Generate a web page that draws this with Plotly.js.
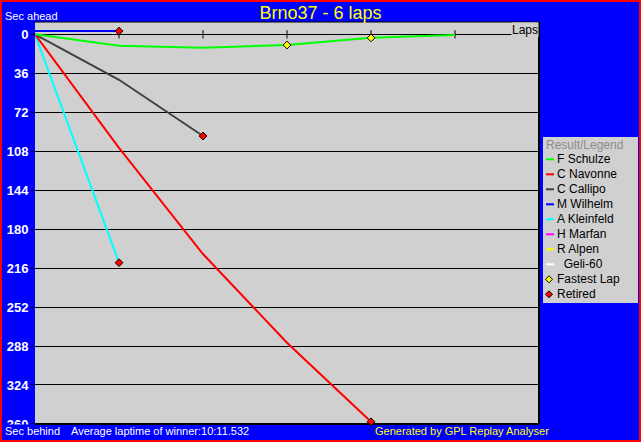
<!DOCTYPE html>
<html><head><meta charset="utf-8">
<script src="https://cdn.plot.ly/plotly-3.0.1.min.js"></script>
<style>
html,body{margin:0;padding:0;background:#0000ff;overflow:hidden}
#wrap{width:637px;height:438px;border:2px solid #ff0000;}
</style></head>
<body><div id="wrap"><div id="chart" style="width:637px;height:438px"></div></div>
<script>
// ---- data ----
const lapTicks = [1, 2, 3, 4, 5];
const yTickVals = [0, 36, 72, 108, 144, 180, 216, 252, 288, 324, 360];

const schulzeLaps = [0, 1, 2, 3, 4, 5];
const schulzeSec  = [0, 10.5, 12.5, 9.9, 3.3, 0.6];
const navonneLaps = [0, 1, 2, 3, 4];
const navonneSec  = [0, 105, 203, 285, 358];
const callipoLaps = [0, 1, 2];
const callipoSec  = [0, 42, 94];
const wilhelmLaps = [0, 1];
const wilhelmSec  = [-3, -3];
const kleinfeldLaps = [0, 1];
const kleinfeldSec  = [0, 211];

const fastestLaps = [3, 4];
const fastestSec  = [9.9, 3.3];
const retiredLaps = [1, 1, 2, 4];
const retiredSec  = [-3, 211, 94, 358];

const legendNames  = ['F Schulze', 'C Navonne', 'C Callipo', 'M Wilhelm', 'A Kleinfeld', 'H Marfan', 'R Alpen', '\u00a0\u00a0Geli-60'];
const legendColors = ['#00ff00', '#ff0000', '#404040', '#0000ff', '#00ffff', '#ff00ff', '#ffff00', '#ffffff'];
const markerNames  = ['Fastest Lap', 'Retired'];
const markerColors = ['#ffff00', '#ff0000'];

const titleText = 'Brno37 - 6 laps';
const topLeftText = 'Sec ahead';
const bottomLeftText = 'Sec behind';
const avgText = 'Average laptime of winner:10:11.532';
const genText = 'Generated by GPL Replay Analyser';
const lapsText = 'Laps';
const legendTitle = 'Result/Legend';

// ---- layout helpers (page pixels -> paper) ----
const OFF = 2, L = 33, T = 20, W = 504, H = 402;
const px = x => (x - OFF - L) / W;
const py = y => 1 - (y - OFF - T) / H;
const FONT = 'Liberation Sans, Arial, sans-serif';

const lineTrace = (x, y, c) => ({x, y, type: 'scatter', mode: 'lines', line: {color: c, width: 2}, hoverinfo: 'skip', showlegend: false});

const data = [
  {x: lapTicks, y: lapTicks.map(() => 0), type: 'scatter', mode: 'markers',
   marker: {symbol: 'line-ns', size: 6, line: {color: '#000000', width: 1}}, showlegend: false, hoverinfo: 'skip'},
  lineTrace(wilhelmLaps, wilhelmSec, legendColors[3]),
  lineTrace(kleinfeldLaps, kleinfeldSec, legendColors[4]),
  lineTrace(callipoLaps, callipoSec, legendColors[2]),
  lineTrace(navonneLaps, navonneSec, legendColors[1]),
  lineTrace(schulzeLaps, schulzeSec, legendColors[0]),
  {x: fastestLaps, y: fastestSec, type: 'scatter', mode: 'markers', cliponaxis: false,
   marker: {symbol: 'diamond', size: 6, color: markerColors[0], line: {color: '#000', width: 1}}, showlegend: false, hoverinfo: 'skip'},
  {x: retiredLaps, y: retiredSec, type: 'scatter', mode: 'markers', cliponaxis: false,
   marker: {symbol: 'diamond', size: 6, color: markerColors[1], line: {color: '#000', width: 1}}, showlegend: false, hoverinfo: 'skip'}
];

const shapes = [
  // plot frame (top, right, bottom)
  {type: 'line', xref: 'paper', yref: 'paper', x0: 0, x1: 1, y0: 1, y1: 1, line: {color: '#000', width: 1}, layer: 'below'},
  {type: 'line', xref: 'paper', yref: 'paper', x0: 1, x1: 1, y0: 0, y1: 1, line: {color: '#000', width: 2}, layer: 'below'},
  {type: 'line', xref: 'paper', yref: 'paper', x0: 0, x1: 1, y0: 0, y1: 0, line: {color: '#000', width: 2}, layer: 'below'},
  // clip of bottom tick label
  {type: 'rect', xref: 'paper', yref: 'paper', x0: px(2), x1: px(34), y0: py(440), y1: py(424.5), fillcolor: '#0000ff', line: {width: 0}, layer: 'above'},
  // legend box
  {type: 'rect', xref: 'paper', yref: 'paper', x0: px(543), x1: px(638), y0: py(303), y1: py(137), fillcolor: '#d0d0d0', line: {width: 0}, layer: 'above'}
];

const annotations = [
  {text: topLeftText, x: px(3), y: py(16), xanchor: 'left', yanchor: 'middle', font: {color: '#ffffff', size: 11, family: FONT}},
  {text: bottomLeftText, x: px(3), y: py(431), xanchor: 'left', yanchor: 'middle', font: {color: '#ffffff', size: 11, family: FONT}},
  {text: avgText, x: px(69), y: py(431), xanchor: 'left', yanchor: 'middle', font: {color: '#ffffff', size: 11, family: FONT}},
  {text: genText, x: px(373), y: py(431), xanchor: 'left', yanchor: 'middle', font: {color: '#ffff00', size: 11, family: FONT}},
  {text: lapsText, x: px(539), y: py(22), xanchor: 'right', yanchor: 'top', bgcolor: '#d0d0d0', borderpad: 0, font: {color: '#000000', size: 12, family: FONT}},
  {text: legendTitle, x: px(544), y: py(145), xanchor: 'left', yanchor: 'middle', font: {color: '#8c8c8c', size: 12, family: FONT}}
];

const itemY = i => 159.3 + 15 * i;
legendNames.forEach((n, i) => {
  const y = itemY(i);
  shapes.push({type: 'line', xref: 'paper', yref: 'paper', x0: px(546), x1: px(554), y0: py(y), y1: py(y), line: {color: legendColors[i], width: 2}, layer: 'above'});
  annotations.push({text: n, x: px(555), y: py(y), xanchor: 'left', yanchor: 'middle', font: {color: '#000000', size: 12, family: FONT}});
});
markerNames.forEach((n, j) => {
  const y = itemY(legendNames.length + j);
  shapes.push({type: 'path', xref: 'paper', yref: 'paper', xsizemode: 'pixel', ysizemode: 'pixel', xanchor: px(549), yanchor: py(y),
    path: 'M0,3.5L3.5,0L0,-3.5L-3.5,0Z', fillcolor: markerColors[j], line: {color: '#000', width: 1}, layer: 'above'});
  annotations.push({text: n, x: px(555), y: py(y), xanchor: 'left', yanchor: 'middle', font: {color: '#000000', size: 12, family: FONT}});
});
annotations.forEach(a => { a.xref = 'paper'; a.yref = 'paper'; a.showarrow = false; });

const layout = {
  width: 637, height: 438,
  margin: {l: L, r: 637 - L - W, t: T, b: 438 - T - H, pad: 0},
  paper_bgcolor: '#0000ff', plot_bgcolor: '#d0d0d0',
  font: {family: FONT},
  title: {text: titleText, font: {color: '#ffff00', size: 18, family: FONT}, x: 0.5, xanchor: 'center', xref: 'container', yref: 'container', y: 1 - 11 / 438, yanchor: 'middle'},
  showlegend: false,
  xaxis: {range: [0, 6], showgrid: false, zeroline: false, showticklabels: false, ticks: '', showline: false, fixedrange: true},
  yaxis: {range: [360.05, -11.35], tickvals: yTickVals, ticktext: yTickVals.map(String), ticks: 'outside', ticklen: 3, tickcolor: '#000000',
    tickfont: {color: '#ffffff', size: 13, family: FONT, weight: 'bold'},
    showgrid: true, gridcolor: '#000000', gridwidth: 1, zeroline: true, zerolinecolor: '#000000', zerolinewidth: 1, showline: false, fixedrange: true},
  shapes, annotations
};

Plotly.newPlot('chart', data, layout, {staticPlot: true, displayModeBar: false});
</script>
</body></html>
